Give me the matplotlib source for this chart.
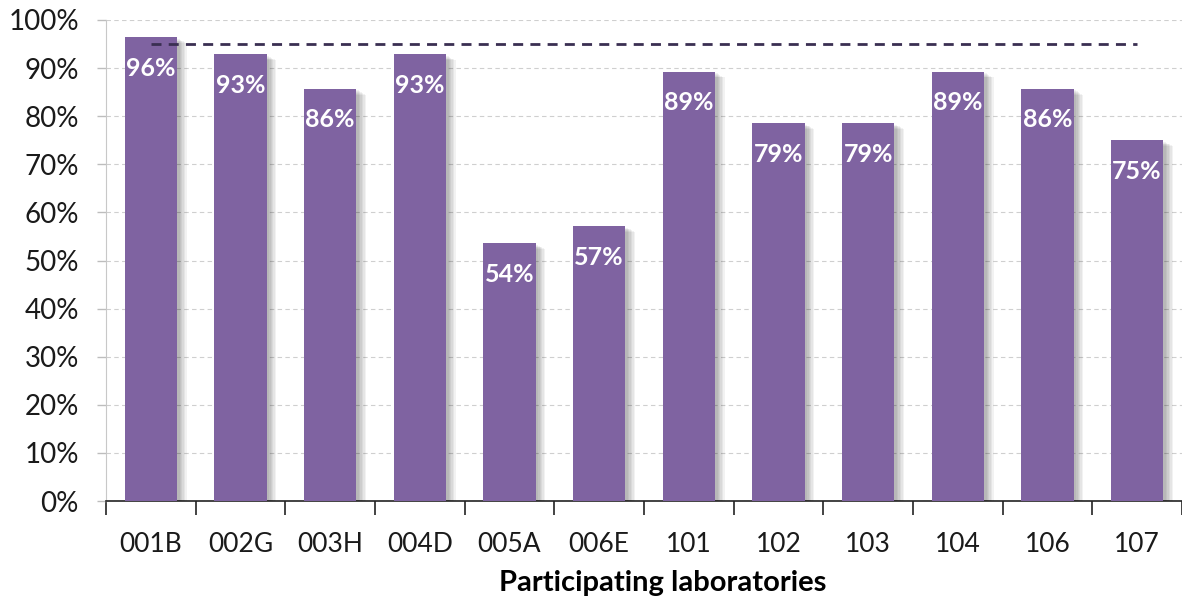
import matplotlib
matplotlib.use("Agg")
import matplotlib.pyplot as plt
import matplotlib.patheffects as pe
from matplotlib.ticker import FixedLocator, PercentFormatter

plt.rcParams['font.family'] = ['Lato', 'DejaVu Sans']

labs = ["001B", "002G", "003H", "004D", "005A", "006E", "101", "102", "103", "104", "106", "107"]
# share of correct results per laboratory (out of 28)
shares = [27/28, 26/28, 24/28, 26/28, 15/28, 16/28, 25/28, 22/28, 22/28, 25/28, 24/28, 21/28]
target = 0.95
yticks = [0, 0.1, 0.2, 0.3, 0.4, 0.5, 0.6, 0.7, 0.8, 0.9, 1.0]

fig = plt.figure(figsize=(11.82, 6.01), dpi=100)
ax = fig.add_axes([106/1182, 100/601, 1076/1182, 481/601])

x = list(range(len(labs)))
bar_color = "#7f63a1"

shadow = [pe.SimplePatchShadow(offset=(o, -o * 0.6), shadow_rgbFace="black", alpha=0.05)
          for o in (7, 6, 5, 4, 3, 2)]
bars = ax.bar(x, shares, width=0.58, color=bar_color, zorder=3,
              path_effects=shadow + [pe.Normal()])

for xi, v in zip(x, shares):
    ax.annotate(f"{v*100:.0f}%", (xi, v), xytext=(0, -14), textcoords="offset points",
                ha="center", va="top", color="white", fontsize=18, fontweight="bold", zorder=5)

ax.plot([x[0], x[-1]], [target, target], color="#3a2f52", lw=2, dashes=(3.6, 2.6), zorder=4)

ax.set_xlim(-0.5, len(labs) - 0.5)
ax.set_ylim(0, 1.0)
ax.yaxis.set_major_locator(FixedLocator(yticks))
ax.yaxis.set_major_formatter(PercentFormatter(1.0, decimals=0))
ax.grid(axis="y", color="#cfcfcf", linestyle=(0, (4, 3)), lw=0.8, zorder=0)

ax.set_xticks(x)
ax.set_xticklabels(labs)
ax.set_xticks([i - 0.5 for i in range(len(labs) + 1)], minor=True)
ax.tick_params(axis="x", which="major", length=0, pad=22, labelsize=19, labelcolor="#1a1a1a")
ax.tick_params(axis="x", which="minor", length=10, width=1.2, color="#222222")
ax.tick_params(axis="y", length=6.5, width=1, color="#bdbdbd", labelsize=20, pad=13, labelcolor="#1a1a1a")

for s in ("top", "right"):
    ax.spines[s].set_visible(False)
ax.spines["left"].set_color("#c8c8c8")
ax.spines["bottom"].set_color("#222222")
ax.spines["bottom"].set_linewidth(1.2)

fig.text(663/1182, 1 - 583/601, "Participating laboratories", ha="center", va="center",
         fontsize=21, fontweight="bold", color="black")

fig.savefig("out.png", dpi=100)
